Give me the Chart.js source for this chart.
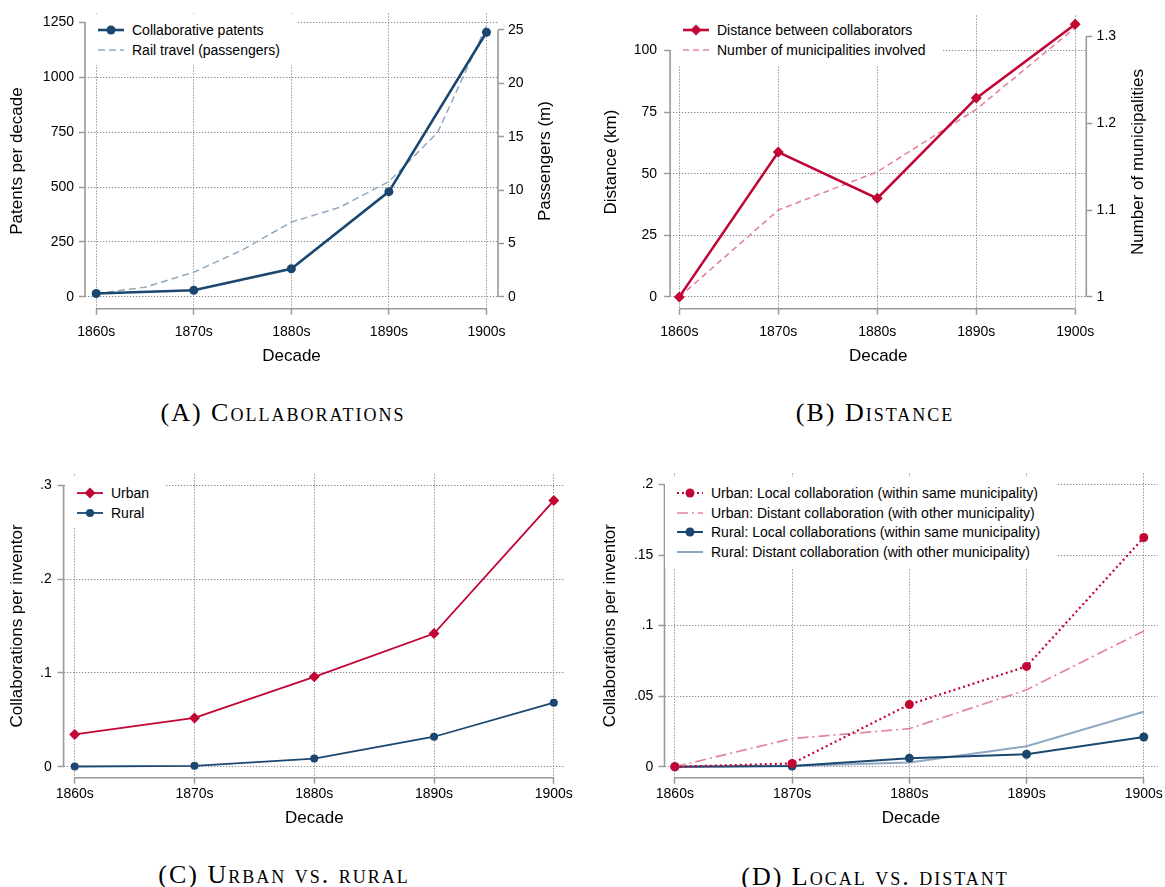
<!DOCTYPE html>
<html>
<head>
<meta charset="utf-8">
<title>Collaborations, distance, urban vs. rural</title>
<script src="https://cdn.jsdelivr.net/npm/chart.js@4.4.1/dist/chart.umd.min.js"></script>
<style>
  body { margin: 0; background: #fff; width: 1165px; height: 887px; position: relative; overflow: hidden;
         font-family: "Liberation Sans", Arial, Helvetica, sans-serif; }
  .legend { position: absolute; background: #fff; font-size: 14px; color: #000; padding: 6px 16px 6px 12px; }
  .legend .row { display: flex; align-items: center; height: 19.7px; white-space: nowrap; }
  .legend svg { margin-right: 8px; flex: none; }
  .caption { position: absolute; width: 400px; text-align: center; line-height: 30px; color: #000;
             font-family: "Liberation Serif", "Times New Roman", serif; font-size: 26px;
             font-variant: small-caps; letter-spacing: 2px; }
</style>
</head>
<body>
<script>
// ---- data ----
const decades = [1860, 1870, 1880, 1890, 1900];

// (A) collaborations
const patents = [15, 30, 128, 479, 1205];
const railYears = [1860, 1865, 1870, 1875, 1880, 1885, 1890, 1895, 1900];
const railPassengers = [0.3, 0.9, 2.3, 4.4, 7.0, 8.4, 10.8, 15.4, 25.4];

// (B) distance
const distanceKm = [0, 58.8, 40.0, 80.7, 110.7];
const municipalities = [1.0, 1.100, 1.144, 1.216, 1.310];

// (C) urban vs rural
const urban = [0.0345, 0.052, 0.0958, 0.1419, 0.2835];
const rural = [0.0003, 0.001, 0.0088, 0.032, 0.0683];

// (D) local vs distant
const urbanLocal = [0, 0.0023, 0.0441, 0.0711, 0.1624];
const urbanDistant = [0, 0.020, 0.027, 0.0545, 0.0962];
const ruralLocal = [0, 0.0005, 0.0061, 0.0089, 0.0211];
const ruralDistant = [0, 0.0005, 0.003, 0.0146, 0.039];

// tick labels
const patentTicks = [0, 250, 500, 750, 1000, 1250];
const passengerTicks = [0, 5, 10, 15, 20, 25];
const distanceTicks = [0, 25, 50, 75, 100];
const muniTicks = [1, 1.1, 1.2, 1.3];
const perInventorTicksC = [0, 0.1, 0.2, 0.3];
const perInventorTicksD = [0, 0.05, 0.1, 0.15, 0.2];

const NAVY = '#1a476f', STEEL = '#90a8c2', RED = '#c10534', PINK = '#e3849f';
const AXIS = '#9a9a9a', GRID = '#8a8a8a';

Chart.defaults.font.family = '"Liberation Sans", Arial, Helvetica, sans-serif';
Chart.defaults.font.size = 14;
Chart.defaults.color = '#000';

function fmt(v) { return v === 0 ? '0' : String(v).replace(/^0\./, '.'); }

// stata-like axis lines: only over the tick range
const axisLines = {
  id: 'axisLines',
  beforeDatasetsDraw(chart) {
    const { ctx, chartArea: a } = chart;
    ctx.save();
    ctx.strokeStyle = AXIS;
    ctx.lineWidth = 1.6;
    ctx.beginPath();
    Object.values(chart.scales).forEach(s => {
      const t = s.ticks;
      if (!t.length) return;
      const p0 = s.getPixelForValue(t[0].value), p1 = s.getPixelForValue(t[t.length - 1].value);
      if (s.axis === 'x') { ctx.moveTo(p0, a.bottom); ctx.lineTo(p1, a.bottom); }
      else {
        const x = s.position === 'right' ? a.right : a.left;
        ctx.moveTo(x, p0); ctx.lineTo(x, p1);
      }
    });
    ctx.stroke();
    ctx.restore();
  }
};

// right-hand axis title reading bottom-to-top
const sideTitle = {
  id: 'sideTitle',
  afterDraw(chart, args, opts) {
    if (!opts || !opts.text) return;
    const { ctx, chartArea: a } = chart;
    ctx.save();
    ctx.translate(opts.x, (a.top + a.bottom) / 2);
    ctx.rotate(-Math.PI / 2);
    ctx.font = '17px "Liberation Sans", Arial, sans-serif';
    ctx.fillStyle = '#000';
    ctx.textAlign = 'center';
    ctx.textBaseline = 'middle';
    ctx.fillText(opts.text, 0, 0);
    ctx.restore();
  }
};

function xAxis(o) {
  return {
    type: 'linear', min: o.min, max: o.max,
    afterBuildTicks: s => { s.ticks = decades.map(v => ({ value: v })); },
    afterFit: s => { s.height = o.height; },
    grid: { color: GRID, lineWidth: 1, tickLength: 6, tickColor: AXIS, tickWidth: 1.5, tickBorderDash: [] },
    border: { display: false, dash: [1.3, 1.7] },
    ticks: { callback: v => v + 's', padding: o.labelPad, maxRotation: 0, autoSkip: false },
    title: { display: true, text: 'Decade', font: { size: 17 }, padding: { top: 0, bottom: o.titlePad } }
  };
}

function yAxis(o) {
  const right = o.position === 'right';
  return {
    type: 'linear', position: right ? 'right' : 'left', min: o.min, max: o.max,
    afterBuildTicks: s => { s.ticks = o.ticks.map(v => ({ value: v })); },
    afterFit: s => { s.width = o.width; },
    grid: { color: GRID, lineWidth: 1, drawOnChartArea: !right, tickLength: 6, tickColor: AXIS, tickWidth: 1.5, tickBorderDash: [] },
    border: { display: false, dash: [1.3, 1.7] },
    ticks: { callback: fmt, padding: o.labelPad, autoSkip: false },
    title: { display: !!o.title, text: o.title || '', font: { size: 17 }, padding: { top: o.titlePad || 0, bottom: 0 } }
  };
}

function series(label, xs, ys, style) {
  return Object.assign({
    label, data: xs.map((x, i) => ({ x, y: ys[i] })),
    tension: 0, fill: false, clip: false, pointRadius: 0, pointBorderWidth: 0, yAxisID: 'y'
  }, style, { pointBackgroundColor: style.borderColor, backgroundColor: style.borderColor });
}

function sample(d) {
  const dash = d.borderDash ? d.borderDash.join(',') : 'none';
  let m = '';
  const r = d.pointRadius;
  if (r) {
    m = d.pointStyle === 'rectRot'
      ? `<polygon points="${13 - r},6 13,${6 - r} ${13 + r},6 13,${6 + r}" fill="${d.borderColor}"/>`
      : `<circle cx="13" cy="6" r="${r}" fill="${d.borderColor}"/>`;
  }
  return `<svg width="26" height="12" viewBox="0 0 26 12"><line x1="0" y1="6" x2="26" y2="6" stroke="${d.borderColor}" stroke-width="${d.borderWidth}" stroke-dasharray="${dash}"/>${m}</svg>`;
}

function legend(left, top, datasets) {
  const div = document.createElement('div');
  div.className = 'legend';
  div.style.left = left + 'px';
  div.style.top = top + 'px';
  datasets.forEach(d => {
    const row = document.createElement('div');
    row.className = 'row';
    row.innerHTML = sample(d) + '<span></span>';
    row.lastChild.textContent = d.label;
    div.appendChild(row);
  });
  document.body.appendChild(div);
}

function caption(cx, cy, text) {
  const div = document.createElement('div');
  div.className = 'caption';
  div.style.left = (cx - 200) + 'px';
  div.style.top = (cy - 15) + 'px';
  div.textContent = text;
  document.body.appendChild(div);
}

function panel(p) {
  const cv = document.createElement('canvas');
  cv.width = p.w; cv.height = p.h;
  cv.style.cssText = `position:absolute;left:${p.left}px;top:${p.top}px;width:${p.w}px;height:${p.h}px`;
  document.body.appendChild(cv);
  new Chart(cv, {
    type: 'line',
    data: { datasets: p.datasets },
    options: {
      responsive: false, animation: false, devicePixelRatio: 1, events: [],
      layout: { padding: { top: p.padTop, right: p.padRight || 0, left: 0, bottom: 0 } },
      scales: p.scales,
      plugins: { legend: { display: false }, tooltip: { enabled: false }, sideTitle: p.sideTitle || {} }
    },
    plugins: [axisLines, sideTitle]
  });
  legend(p.legend[0], p.legend[1], p.datasets);
  caption(p.caption[0], p.caption[1], p.caption[2]);
}

// (A) Collaborations
panel({
  left: 0, top: 0, w: 582, h: 380, padTop: 11,
  datasets: [
    series('Collaborative patents', decades, patents, { borderColor: NAVY, borderWidth: 2.6, pointStyle: 'circle', pointRadius: 4.5 }),
    series('Rail travel (passengers)', railYears, railPassengers, { borderColor: STEEL, borderWidth: 1.5, borderDash: [7, 4], yAxisID: 'y1' })
  ],
  scales: {
    x: xAxis({ min: 1858.852, max: 1901.179, height: 71.3, labelPad: 9, titlePad: 13.8 }),
    y: yAxis({ min: -54.2, max: 1290.7, ticks: patentTicks, width: 85, labelPad: 5, title: 'Patents per decade', titlePad: 7.6 }),
    y1: yAxis({ position: 'right', min: -1.115, max: 26.552, ticks: passengerTicks, width: 84, labelPad: 4 })
  },
  sideTitle: { text: 'Passengers (m)', x: 545.7 },
  legend: [86, 14],
  caption: [283, 413, '(A) Collaborations']
});

// (B) Distance
panel({
  left: 585, top: 0, w: 580, h: 380, padTop: 11,
  datasets: [
    series('Distance between collaborators', decades, distanceKm, { borderColor: RED, borderWidth: 2.6, pointStyle: 'rectRot', pointRadius: 5.5 }),
    series('Number of municipalities involved', decades, municipalities, { borderColor: PINK, borderWidth: 1.6, borderDash: [6, 4], yAxisID: 'y1' })
  ],
  scales: {
    x: xAxis({ min: 1859.07, max: 1901.12, height: 71.3, labelPad: 9, titlePad: 13.8 }),
    y: yAxis({ min: -4.8, max: 114.28, ticks: distanceTicks, width: 85.1, labelPad: 7, title: 'Distance (km)', titlePad: 15.8 }),
    y1: yAxis({ position: 'right', min: 0.98638, max: 1.32417, ticks: muniTicks, width: 78.7, labelPad: 4.3 })
  },
  sideTitle: { text: 'Number of municipalities', x: 553 },
  legend: [671, 14],
  caption: [875, 413, '(B) Distance']
});

// (C) Urban vs. rural
panel({
  left: 0, top: 460, w: 582, h: 380, padTop: 11.7, padRight: 17,
  datasets: [
    series('Urban', decades, urban, { borderColor: RED, borderWidth: 1.8, pointStyle: 'rectRot', pointRadius: 5.5 }),
    series('Rural', decades, rural, { borderColor: NAVY, borderWidth: 1.8, pointStyle: 'circle', pointRadius: 4 })
  ],
  scales: {
    x: xAxis({ min: 1859.073, max: 1900.935, height: 62.3, labelPad: 2, titlePad: 11.8 }),
    y: yAxis({ min: -0.01162, max: 0.31162, ticks: perInventorTicksC, width: 63.6, labelPad: 5.8, title: 'Collaborations per inventor', titlePad: 7.6 })
  },
  legend: [65, 477],
  caption: [284, 875, '(C) Urban vs. rural']
});

// (D) Local vs. distant
panel({
  left: 585, top: 460, w: 580, h: 380, padTop: 11.7, padRight: 5,
  datasets: [
    series('Urban: Local collaboration (within same municipality)', decades, urbanLocal, { borderColor: RED, borderWidth: 2.2, borderDash: [2, 3], pointStyle: 'circle', pointRadius: 4.5 }),
    series('Urban: Distant collaboration (with other municipality)', decades, urbanDistant, { borderColor: PINK, borderWidth: 1.7, borderDash: [11, 4, 2, 4] }),
    series('Rural: Local collaborations (within same municipality)', decades, ruralLocal, { borderColor: NAVY, borderWidth: 2, pointStyle: 'circle', pointRadius: 4.5 }),
    series('Rural: Distant collaboration (with other municipality)', decades, ruralDistant, { borderColor: STEEL, borderWidth: 2 })
  ],
  scales: {
    x: xAxis({ min: 1859.117, max: 1901.171, height: 62.3, labelPad: 2, titlePad: 11.8 }),
    y: yAxis({ min: -0.007746, max: 0.207746, ticks: perInventorTicksD, width: 79.5, labelPad: 5.1, title: 'Collaborations per inventor', titlePad: 14.8 })
  },
  legend: [665, 477],
  caption: [875, 877, '(D) Local vs. distant']
});
</script>
</body>
</html>
